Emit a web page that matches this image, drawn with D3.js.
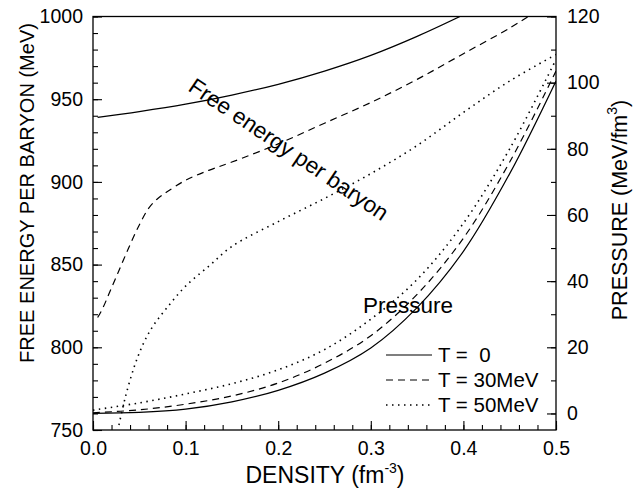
<!DOCTYPE html>
<html>
<head>
<meta charset="utf-8">
<script src="https://cdn.jsdelivr.net/npm/d3@7"></script>
<style>
  html, body { margin: 0; padding: 0; background: #fff; }
  svg { display: block; font-family: "Liberation Sans", Arial, sans-serif; }
  text { fill: #000; }
</style>
</head>
<body>
<svg id="chart" width="643" height="488"></svg>
<script>
// ---- Data ----
const densF0  = [0.005, 0.05, 0.1, 0.15, 0.2, 0.25, 0.3, 0.35, 0.4];
const freeT0  = [939, 942.5, 947, 952.5, 959, 967, 976.5, 988, 1001];

const densF30 = [0.005, 0.01, 0.02, 0.03, 0.04, 0.05, 0.06, 0.07, 0.08, 0.1, 0.125, 0.15, 0.2, 0.25, 0.3, 0.35, 0.4, 0.45, 0.47];
const freeT30 = [818, 823, 836, 849, 862, 874, 884, 890, 894, 901, 907, 912, 923, 935.5, 948, 962, 977.5, 993, 1000];

const densF50 = [0.028, 0.035, 0.045, 0.055, 0.065, 0.08, 0.1, 0.125, 0.15, 0.2, 0.25, 0.3, 0.35, 0.4, 0.45, 0.5];
const freeT50 = [753, 770, 789, 803, 813, 824, 837, 849, 861, 876, 890, 905, 922, 942, 961, 977];

const densP   = [0, 0.05, 0.1, 0.15, 0.2, 0.25, 0.3, 0.35, 0.4, 0.45, 0.5];
const presT0  = [0, 0.3, 1.3, 3.5, 7, 12.2, 19.8, 32, 49, 72.5, 100.5];
const presT30 = [0.2, 1.1, 2.8, 5.3, 9.2, 15.2, 23.5, 36, 53, 76, 103.5];
const presT50 = [1, 3.2, 5.9, 9, 13.2, 19.3, 28.5, 40.5, 57.5, 80, 107];

const xTicks      = [0, 0.1, 0.2, 0.3, 0.4, 0.5];
const yLeftTicks  = [750, 800, 850, 900, 950, 1000];
const yRightTicks = [0, 20, 40, 60, 80, 100, 120];

const legendLabels = ["T =  0", "T = 30MeV", "T = 50MeV"];

// ---- Layout ----
const svg = d3.select("#chart");
const L = 93, R = 556, T = 16.5, B = 430;

const x  = d3.scaleLinear().domain([0, 0.5]).range([L, R]);
const yL = d3.scaleLinear().domain([750, 1000]).range([B, T]);
const yR = d3.scaleLinear().domain([-5, 120]).range([B, T]);

const styles = [
  { dash: null, w: 1.2 },
  { dash: "7,5", w: 1.2 },
  { dash: "1.5,4.5", w: 1.6 }
];

svg.append("defs").append("clipPath").attr("id", "plot")
  .append("rect").attr("x", L).attr("y", T).attr("width", R - L).attr("height", B - T);

const fontTick = "19.5px";

function styleAxis(g) {
  g.select(".domain").remove();
  g.selectAll("line").attr("stroke", "#000").attr("stroke-width", 1.1);
  g.selectAll("text").attr("font-size", fontTick).attr("fill", "#000")
    .attr("font-family", '"Liberation Sans", Arial, sans-serif');
}

// minor ticks
const minorX = d3.range(0, 0.5001, 0.02).map(v => +v.toFixed(2));
const minorYL = d3.range(750, 1000.1, 10);
const minorYR = d3.range(0, 120.1, 10);

svg.append("g").attr("transform", `translate(0,${B})`)
  .call(d3.axisBottom(x).tickValues(minorX).tickSize(-5).tickFormat(""))
  .call(styleAxis);
svg.append("g").attr("transform", `translate(${L},0)`)
  .call(d3.axisLeft(yL).tickValues(minorYL).tickSize(-5).tickFormat(""))
  .call(styleAxis);
svg.append("g").attr("transform", `translate(${R},0)`)
  .call(d3.axisRight(yR).tickValues(minorYR).tickSize(-5).tickFormat(""))
  .call(styleAxis);

// major ticks
svg.append("g").attr("transform", `translate(0,${B})`)
  .call(d3.axisBottom(x).tickValues(xTicks).tickSize(-9).tickPadding(11).tickFormat(d3.format(".1f")))
  .call(styleAxis);
svg.append("g").attr("transform", `translate(${L},0)`)
  .call(d3.axisLeft(yL).tickValues(yLeftTicks).tickSize(-9).tickPadding(10).tickFormat(d3.format("d")))
  .call(styleAxis);
svg.append("g").attr("transform", `translate(${R},0)`)
  .call(d3.axisRight(yR).tickValues(yRightTicks).tickSize(-9).tickPadding(11).tickFormat(d3.format("d")))
  .call(styleAxis);

// frame
svg.append("rect").attr("x", L).attr("y", T).attr("width", R - L).attr("height", B - T)
  .attr("fill", "none").attr("stroke", "#000").attr("stroke-width", 1.3);

// curves
const plot = svg.append("g").attr("clip-path", "url(#plot)");
function drawCurve(xs, ys, yScale, st) {
  const pts = xs.map((d, i) => [d, ys[i]]);
  const line = d3.line().x(d => x(d[0])).y(d => yScale(d[1])).curve(d3.curveCatmullRom.alpha(0.5));
  plot.append("path").datum(pts)
    .attr("d", line)
    .attr("fill", "none")
    .attr("stroke", "#000")
    .attr("stroke-width", st.w)
    .attr("stroke-dasharray", st.dash);
}
drawCurve(densF0, freeT0, yL, styles[0]);
drawCurve(densF30, freeT30, yL, styles[1]);
drawCurve(densF50, freeT50, yL, styles[2]);
drawCurve(densP, presT0, yR, styles[0]);
drawCurve(densP, presT30, yR, styles[1]);
drawCurve(densP, presT50, yR, styles[2]);

// curve labels
svg.append("text").attr("transform", "translate(187,90) rotate(34)")
  .attr("font-size", "22.5px").text("Free energy per baryon");
svg.append("text").attr("x", 363).attr("y", 312.5)
  .attr("font-size", "22.5px").text("Pressure");

// legend
const lg = svg.append("g");
legendLabels.forEach((lab, i) => {
  const yy = 355 + i * 25;
  lg.append("line").attr("x1", 386).attr("x2", 432).attr("y1", yy).attr("y2", yy)
    .attr("stroke", "#000").attr("stroke-width", styles[i].w)
    .attr("stroke-dasharray", styles[i].dash);
  lg.append("text").attr("x", 438).attr("y", yy + 7)
    .attr("font-size", "20.5px").style("white-space", "pre").text(lab);
});

// axis titles
svg.append("text").attr("transform", "translate(34,193) rotate(-90)")
  .attr("text-anchor", "middle").attr("font-size", "21px")
  .attr("textLength", 340).attr("lengthAdjust", "spacingAndGlyphs")
  .text("FREE ENERGY PER BARYON (MeV)");

const rt = svg.append("text").attr("transform", "translate(627,210) rotate(-90)")
  .attr("text-anchor", "middle").attr("font-size", "21.5px");
rt.append("tspan").text("PRESSURE (MeV/fm");
rt.append("tspan").attr("font-size", "14px").attr("dy", -10).text("3");
rt.append("tspan").attr("dy", 10).text(")");

const bt = svg.append("text").attr("x", 325).attr("y", 483)
  .attr("text-anchor", "middle").attr("font-size", "23px");
bt.append("tspan").text("DENSITY (fm");
bt.append("tspan").attr("font-size", "14px").attr("dy", -10).text("-3");
bt.append("tspan").attr("dy", 10).text(")");
</script>
</body>
</html>
